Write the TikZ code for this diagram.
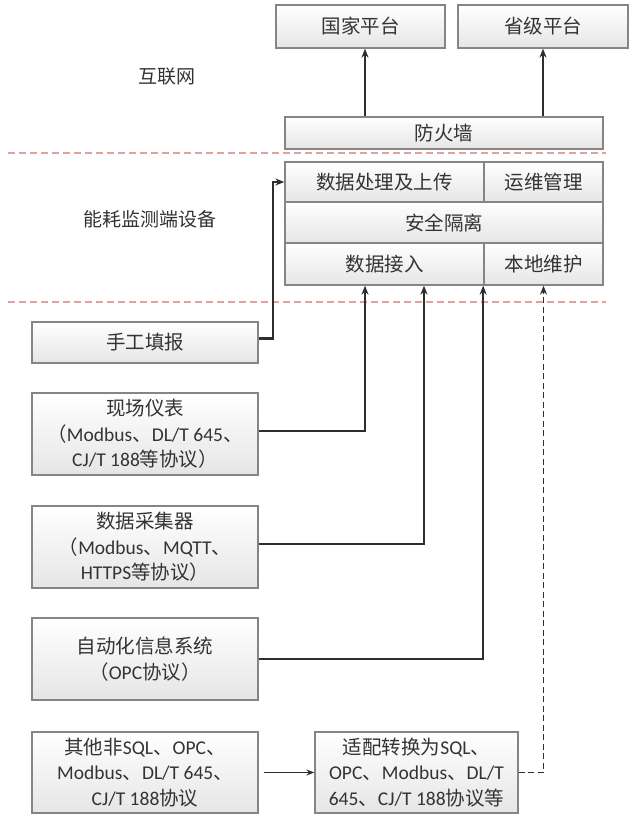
\documentclass[tikz,border=0pt]{standalone}
\usepackage{fontspec}
\setmainfont{Carlito}
\newfontfamily\zh{Noto Sans CJK SC}
\usetikzlibrary{arrows.meta,calc}
\definecolor{txt}{HTML}{333333}
\definecolor{bordr}{HTML}{858585}
\definecolor{redline}{HTML}{E2A0A0}
\definecolor{linec}{HTML}{2E2E2E}
\tikzset{
  box/.style={draw=bordr, line width=1.3pt, top color=white, bottom color=black!10,
    inner sep=0pt, align=center, text=txt, font=\fontsize{19.5}{25.5}\selectfont},
  lbl/.style={text=txt, font=\zh\fontsize{19}{22}\selectfont},
  arr/.style={draw=linec, line width=2.3pt, -{Stealth[length=9pt,width=7pt]}},
  thinarr/.style={draw=linec, line width=1.5pt, -{Stealth[length=8pt,width=6pt]}},
  sep/.style={draw=redline, line width=1.3pt, dash pattern=on 7pt off 4pt}
}
\begin{document}
\begin{tikzpicture}[x=1pt,y=-1pt]
\useasboundingbox[fill=white] (0,0) rectangle (636,821);
% top platforms
\node[box, minimum width=169pt, minimum height=43pt] (gj) at (360.5,26.5) {\zh 国家平台};
\node[box, minimum width=170pt, minimum height=43pt] (sjpt) at (543,26.5) {\zh 省级平台};
\node[box, minimum width=318pt, minimum height=32pt] (fhq) at (444,133) {\zh 防火墙};
% separators
\draw[sep] (8,153) -- (606,153);
\draw[sep] (8,302) -- (606,302);
% labels
\node[lbl] (hlw) at (167,77) {互联网};
\node[lbl] (nh) at (150,219) {能耗监测端设备};
% device block
\node[box, minimum width=199pt, minimum height=40pt] (dp) at (384.5,182) {\zh 数据处理及上传};
\node[box, minimum width=119pt, minimum height=40pt] (yw) at (543.5,182) {\zh 运维管理};
\node[box, minimum width=318pt, minimum height=41pt] (aq) at (444,222.5) {\zh 安全隔离};
\node[box, minimum width=199pt, minimum height=42pt] (sjjr) at (384.5,264) {\zh 数据接入};
\node[box, minimum width=119pt, minimum height=42pt] (bd) at (543.5,264) {\zh 本地维护};
% sources
\node[box, minimum width=226pt, minimum height=41pt] (sg) at (145,342.5) {\zh 手工填报};
\node[box, minimum width=226pt, minimum height=82pt] (xc) at (145,434)
  {{\zh 现场仪表}\\{\zh （}Modbus{\zh 、}DL/T 645{\zh 、}\\CJ/T 188{\zh 等协议）}};
\node[box, minimum width=226pt, minimum height=82pt] (cj) at (145,547)
  {{\zh 数据采集器}\\{\zh （}Modbus{\zh 、}MQTT{\zh 、}\\HTTPS{\zh 等协议）}};
\node[box, minimum width=226pt, minimum height=82pt] (zd) at (145,659)
  {{\zh 自动化信息系统}\\{\zh （}OPC{\zh 协议）}};
\node[box, minimum width=226pt, minimum height=81pt] (qt) at (145,772.5)
  {{\zh 其他非}SQL{\zh 、}OPC{\zh 、}\\Modbus{\zh 、}DL/T 645{\zh 、}\\CJ/T 188{\zh 协议}};
\node[box, minimum width=203pt, minimum height=81pt] (sp) at (416.5,772.5)
  {{\zh 适配转换为}SQL{\zh 、}\\OPC{\zh 、}Modbus{\zh 、}DL/T\\645{\zh 、}CJ/T 188{\zh 协议等}};
% connectors
\draw[arr] ([xshift=4.5pt]fhq.north -| gj.south) -- ([xshift=4.5pt]gj.south);
\draw[arr] (fhq.north -| sjpt.south) -- (sjpt.south);
\draw[arr] ([yshift=4pt]sg.east) -- ++(14,0) |- (dp.west);
\draw[arr] ([yshift=3pt]xc.east) -| ([xshift=-19.5pt]sjjr.south);
\draw[arr] ([yshift=3pt]cj.east) -| ([xshift=39.5pt]sjjr.south);
\draw[arr] (zd.east) -| ([xshift=-1.5pt]sjjr.south east);
\draw[thinarr] ([xshift=5pt]qt.east) -- (sp.west);
\draw[arr, line width=1.8pt, dash pattern=on 6pt off 3.5pt] (sp.east) -| (bd.south);
\end{tikzpicture}
\end{document}
